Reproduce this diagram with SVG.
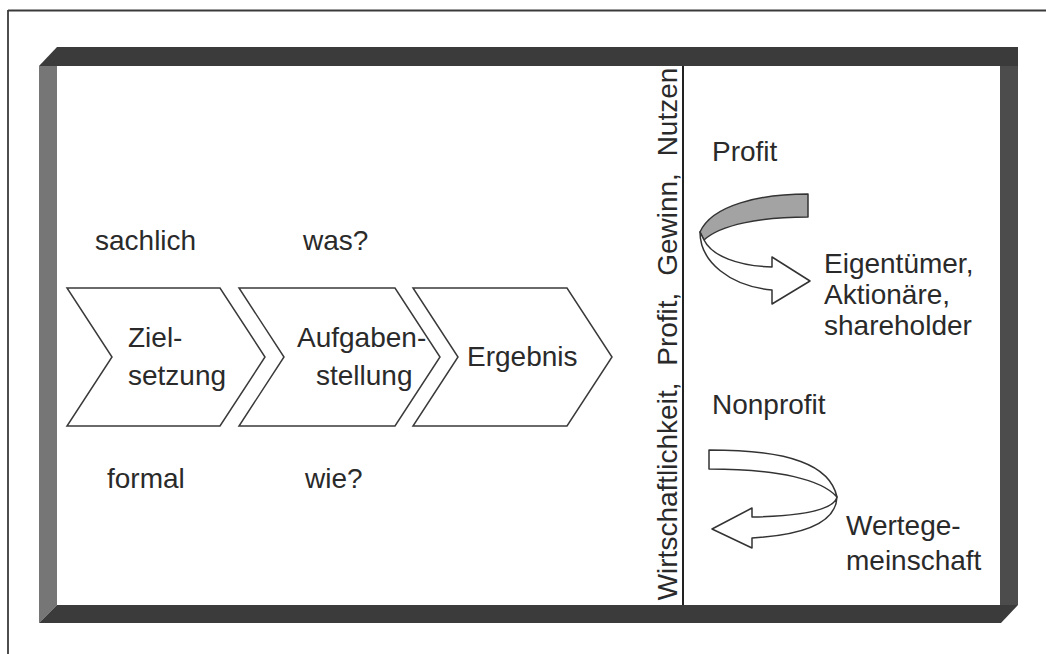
<svg xmlns="http://www.w3.org/2000/svg" width="1046" height="654" viewBox="0 0 1046 654">
<style>
  .t { font-family: "Liberation Sans", Arial, sans-serif; font-size: 28px; fill: #2a2a2a; }
  .chev { fill: #ffffff; stroke: #3a3a3a; stroke-width: 1.5; stroke-linejoin: miter; }
  .rib { fill: #ffffff; stroke: #333333; stroke-width: 1.5; stroke-linejoin: round; }
  .ribg { fill: #a3a3a3; stroke: #333333; stroke-width: 1.5; stroke-linejoin: round; }
</style>
<rect x="0" y="0" width="1046" height="654" fill="#ffffff"/>
<g id="scan-border">
  <line x1="8" y1="10.5" x2="1046" y2="10.5" stroke="#3a3a3a" stroke-width="1.8"/>
  <line x1="8" y1="10" x2="8" y2="654" stroke="#3a3a3a" stroke-width="1.8"/>
</g>
<g id="frame">
  <polygon points="39,66 57,66 57,605 39,623" fill="#767676"/>
  <polygon points="57,47 1018,47 1018,66 39,66" fill="#3b3b3b"/>
  <polygon points="1000,66 1018,66 1018,605 1000,605" fill="#4c4c4c"/>
  <polygon points="57,605 1018,605 1001,623 39,623" fill="#3b3b3b"/>
  <line x1="683" y1="66" x2="683" y2="605" stroke="#222222" stroke-width="2"/>
</g>
<g id="axis-label">
  <text class="t" transform="translate(677,334) rotate(-90)" text-anchor="middle" word-spacing="9">Wirtschaftlichkeit, Profit, Gewinn, Nutzen</text>
</g>
<g id="label-sachlich"><text class="t" x="95" y="250">sachlich</text></g>
<g id="label-was"><text class="t" x="303" y="250">was?</text></g>
<g id="label-formal"><text class="t" x="107" y="488">formal</text></g>
<g id="label-wie"><text class="t" x="305" y="488">wie?</text></g>
<g id="node-zielsetzung">
  <polygon class="chev" points="67,288 220,288 265,357 220,426 67,426 112,357"/>
  <text class="t" x="128" y="347">Ziel-</text>
  <text class="t" x="128" y="385">setzung</text>
</g>
<g id="node-aufgabenstellung">
  <polygon class="chev" points="239,288 395,288 440,357 395,426 239,426 284,357"/>
  <text class="t" x="297" y="347">Aufgaben-</text>
  <text class="t" x="316" y="385">stellung</text>
</g>
<g id="node-ergebnis">
  <polygon class="chev" points="413,288 567,288 612,357 567,426 413,426 458,357"/>
  <text class="t" x="467" y="366">Ergebnis</text>
</g>
<g id="node-profit">
  <text class="t" x="712" y="161">Profit</text>
  <text class="t" x="824" y="273">Eigentümer,</text>
  <text class="t" x="824" y="304">Aktionäre,</text>
  <text class="t" x="824" y="335">shareholder</text>
</g>
<g id="node-nonprofit">
  <text class="t" x="712" y="414">Nonprofit</text>
  <text class="t" x="846" y="535">Wertege-</text>
  <text class="t" x="846" y="570">meinschaft</text>
</g>
<g id="connectors">
  <path class="ribg" d="M808,194 C760,194 712,205 700,232 L704,240 C720,225 760,217 808,217 Z"/>
  <path class="rib" d="M700,232 C700,262 730,286 772,290 L772,304 L810,281 L772,257 L772,267 C738,266 712,256 704,240 Z"/>
  <path class="rib" d="M709,450 C790,450 830,465 837,497 C822,480 780,469 709,469 Z"/>
  <path class="rib" d="M837,497 C834,510 800,516 752,517 L752,508 L712,529 L752,548 L752,538 C805,535 836,522 837,497 Z"/>
</g>
</svg>
